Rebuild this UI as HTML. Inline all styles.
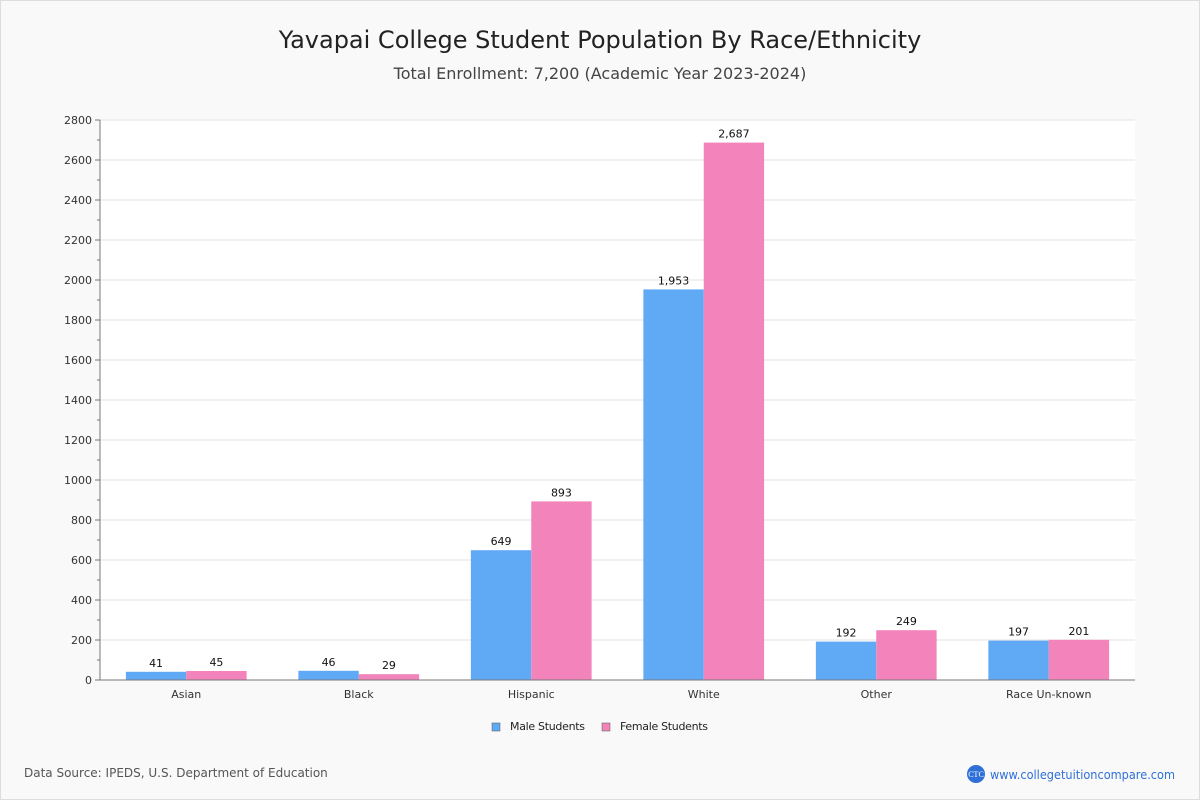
<!DOCTYPE html>
<html><head><meta charset="utf-8"><style>
body{margin:0;background:#fff;}
#wrap{position:relative;width:1198px;height:798px;border:1px solid #ddd;background:#f9f9f9;font-family:"DejaVu Sans","Liberation Sans",sans-serif;}
</style></head><body>
<div id="wrap">
<svg id="chart" width="1198" height="798" xmlns="http://www.w3.org/2000/svg">
<text x="599" y="47" text-anchor="middle" font-size="24" fill="#222">Yavapai College Student Population By Race/Ethnicity</text>
<text x="599" y="78" text-anchor="middle" font-size="16" fill="#444">Total Enrollment: 7,200 (Academic Year 2023-2024)</text>
<rect x="99" y="119" width="1035" height="560" fill="#fff"/>
<g id="grid"></g><g id="bars"></g><g id="axes"></g>
<g>
<g><rect x="491" y="722" width="8" height="8" fill="#60a9f4" stroke="#555" stroke-width="0.5"/><text x="509" y="729" font-size="11" fill="#222" textLength="75">Male Students</text></g>
<g><rect x="601" y="722" width="8" height="8" fill="#f283bb" stroke="#555" stroke-width="0.5"/><text x="619" y="729" font-size="11" fill="#222" textLength="88">Female Students</text></g>
</g>
<text x="23" y="776" font-size="12" fill="#555">Data Source: IPEDS, U.S. Department of Education</text>
<g>
<circle cx="975" cy="773" r="9" fill="#2f6fd8"/><text x="975" y="776" text-anchor="middle" font-size="8" fill="#fff" font-family="Liberation Serif,serif">CTC</text>
<text x="989" y="778" font-size="12" fill="#2f6fd8" textLength="185" lengthAdjust="spacingAndGlyphs">www.collegetuitioncompare.com</text></g>
</svg></div>
<script>
const categories=["Asian","Black","Hispanic","White","Other","Race Un-known"];
const maleValues=[41,46,649,1953,192,197];
const femaleValues=[45,29,893,2687,249,201];
const yTicks=[0,200,400,600,800,1000,1200,1400,1600,1800,2000,2200,2400,2600,2800];
const NS="http://www.w3.org/2000/svg";
const L=99,R=1134,T=119,B=679,YMAX=2800;
const y=v=>B-(v/YMAX)*(B-T);
const gw=(R-L)/categories.length;
const x=i=>L+gw*i;
function mk(t,a,p){const e=document.createElementNS(NS,t);for(const k in a)e.setAttribute(k,a[k]);p.appendChild(e);return e;}
const grid=document.getElementById('grid'),bars=document.getElementById('bars'),axes=document.getElementById('axes');
yTicks.forEach(v=>{
 const g=mk('line',{x1:L,x2:R,y1:y(v),y2:y(v),stroke:'#e3e3e3'},grid);
 
 
 const t=mk('text',{x:L-8,y:y(v)+4,'text-anchor':'end','font-size':11,fill:'#333'},axes);
 t.textContent=v;
 
 
 mk('line',{x1:L-5,x2:L,y1:y(v),y2:y(v),stroke:'#777'},axes);
 if(v<YMAX)mk('line',{x1:L-3,x2:L,y1:y(v+100),y2:y(v+100),stroke:'#777'},axes);
});
const bw=gw*0.35;
categories.forEach((c,i)=>{
 const cx=x(i)+gw/2;
 [[maleValues[i],'#60a9f4',cx-bw,'bar-male'],[femaleValues[i],'#f283bb',cx,'bar-female']].forEach(([v,col,bx,nm])=>{
  const r=mk('rect',{x:bx,y:y(v),width:bw,height:B-y(v),fill:col},bars);
  
  
  const t=mk('text',{x:bx+bw/2,y:y(v)-5,'text-anchor':'middle','font-size':11,fill:'#111'},bars);
  t.textContent=v.toLocaleString('en-US');
  
  
 });
 const t=mk('text',{x:cx,y:B+18,'text-anchor':'middle','font-size':11,fill:'#333'},axes);
 t.textContent=c;
 
 
});
mk('line',{x1:L,x2:L,y1:T,y2:B,stroke:'#777'},axes);
mk('line',{x1:L,x2:R,y1:B,y2:B,stroke:'#777'},axes);
</script>
</body></html>
